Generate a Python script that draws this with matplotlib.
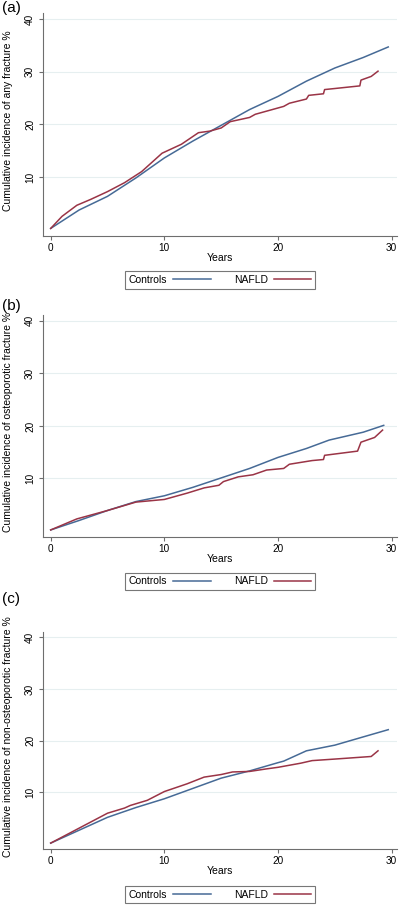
import matplotlib
matplotlib.use("Agg")
import matplotlib.pyplot as plt
from matplotlib.lines import Line2D

plt.rcParams['font.family'] = ['Liberation Sans', 'DejaVu Sans']

panel_labels = ["(a)", "(b)", "(c)"]
y_titles = ["Cumulative incidence of any fracture %",
            "Cumulative incidence of osteoporotic fracture %",
            "Cumulative incidence of non-osteoporotic fracture %"]
series_names = ["Controls", "NAFLD"]
x_ticks = [0, 10, 20, 30]
y_ticks = [10, 20, 30, 40]

# Panel (a): any fracture
a_ctrl_x = [0, 2.5, 5, 7.5, 10, 12.5, 15, 17.5, 20, 22.5, 25, 27.5, 29.7]
a_ctrl_y = [0.2, 3.7, 6.3, 9.8, 13.6, 16.8, 19.8, 22.8, 25.3, 28.2, 30.7, 32.7, 34.7]
a_nafld_x = [0, 1, 2.3, 3.5, 5, 6.5, 8, 9.8, 11.5, 13, 14, 15, 15.8, 17.5, 18, 19.5, 20.5, 21, 22.5, 22.7, 24, 24.1, 25, 27.2, 27.3, 28.2, 28.8]
a_nafld_y = [0.2, 2.5, 4.6, 5.7, 7.2, 8.9, 11.0, 14.5, 16.2, 18.4, 18.7, 19.3, 20.5, 21.3, 21.9, 22.8, 23.4, 24.0, 24.8, 25.5, 25.8, 26.6, 26.8, 27.3, 28.4, 29.1, 30.1]

# Panel (b): osteoporotic fracture
b_ctrl_x = [0, 2.5, 5, 7.5, 10, 12.5, 15, 17.5, 20, 22.5, 24.5, 27.5, 29.3]
b_ctrl_y = [0.2, 2.0, 3.9, 5.6, 6.7, 8.3, 10.1, 11.9, 14.0, 15.7, 17.3, 18.8, 20.1]
b_nafld_x = [0, 2.3, 5, 7.5, 10, 12, 13.5, 14.8, 15.2, 16.5, 17.8, 19, 20.5, 21, 23, 24, 24.1, 27, 27.3, 28.5, 29.2]
b_nafld_y = [0.2, 2.3, 3.9, 5.5, 6.0, 7.2, 8.2, 8.7, 9.4, 10.3, 10.7, 11.6, 11.9, 12.7, 13.4, 13.6, 14.4, 15.2, 16.9, 17.8, 19.2]

# Panel (c): non-osteoporotic fracture
c_ctrl_x = [0, 2.5, 5, 7.5, 10, 12.5, 15, 17.5, 20, 20.5, 22.5, 25, 27.5, 29.7]
c_ctrl_y = [0.1, 2.6, 5.1, 7.0, 8.7, 10.7, 12.7, 14.1, 15.7, 16.0, 18.0, 19.1, 20.7, 22.1]
c_nafld_x = [0, 2.5, 5, 6.5, 7, 8.5, 10, 12, 13.5, 15, 16, 17.5, 19, 20, 22, 23, 25, 28.2, 28.8]
c_nafld_y = [0.1, 3.0, 5.9, 6.9, 7.4, 8.4, 10.1, 11.6, 12.9, 13.4, 13.9, 14.0, 14.5, 14.8, 15.6, 16.1, 16.4, 16.9, 18.0]

data = [
    (a_ctrl_x, a_ctrl_y, a_nafld_x, a_nafld_y),
    (b_ctrl_x, b_ctrl_y, b_nafld_x, b_nafld_y),
    (c_ctrl_x, c_ctrl_y, c_nafld_x, c_nafld_y),
]

ctrl_color = "#466a96"
nafld_color = "#9a3446"
spine_color = "#6e6e6e"
grid_color = "#e6eff0"

fig = plt.figure(figsize=(4.0, 9.07), dpi=100)
W, H = 400.0, 907.0

# axes pixel boxes: (left, top, right, bottom)
boxes = [(43.3, 13.3, 397, 236.0), (43.3, 315.0, 397, 537.3), (43.3, 631.7, 397, 849.3)]
ylims = [(-1.24, 41.1), (-1.2, 41.1), (-1.1, 41.1)]
legend_boxes = [(125, 270, 315, 290), (125, 571.7, 315, 591), (125, 885, 315, 904)]
label_pos = [(2, 8), (2, 306), (2, 599)]

for i, ax_box in enumerate(boxes):
    l, t, r, b = ax_box
    ax = fig.add_axes([l / W, 1 - b / H, (r - l) / W, (b - t) / H])
    cx, cy, nx, ny = data[i]
    ax.plot(cx, cy, color=ctrl_color, lw=1.1)
    ax.plot(nx, ny, color=nafld_color, lw=1.1)
    ax.set_xlim(-0.65, 30.47)
    ax.set_ylim(*ylims[i])
    ax.set_xticks(x_ticks)
    ax.set_yticks(y_ticks)
    ax.set_yticklabels([str(v) for v in y_ticks], rotation=90, va='center')
    ax.tick_params(axis='both', labelsize=7.2, length=3, width=0.8, color=spine_color, pad=2)
    ax.tick_params(axis='y', pad=3)
    for s in ['top', 'right']:
        ax.spines[s].set_visible(False)
    for s in ['left', 'bottom']:
        ax.spines[s].set_color(spine_color)
        ax.spines[s].set_linewidth(0.8)
    ax.grid(axis='y', color=grid_color, lw=0.8)
    ax.set_axisbelow(True)
    ax.set_xlabel("Years", fontsize=7.5, labelpad=0)
    ax.set_ylabel(y_titles[i], fontsize=7.5)
    ax.yaxis.set_label_coords((8.5 - l) / (r - l), 0.52)
    ax.yaxis.label.set_va('center')

    # legend
    ll, lt, lr, lb = legend_boxes[i]
    handles = [Line2D([], [], color=ctrl_color, lw=1.1), Line2D([], [], color=nafld_color, lw=1.1)]
    leg = fig.legend(handles, series_names, loc='center',
                     bbox_to_anchor=(((ll + lr) / 2) / W, 1 - ((lt + lb) / 2) / H),
                     ncol=2, fontsize=7.5, frameon=True, fancybox=False,
                     handlelength=3.6, handletextpad=0.6, columnspacing=2.2,
                     borderpad=0.35, markerfirst=False)
    leg.get_frame().set_edgecolor("#555555")
    leg.get_frame().set_linewidth(0.8)

    fig.text(label_pos[i][0] / W, 1 - label_pos[i][1] / H, panel_labels[i],
             fontsize=11, va='center', ha='left')

fig.savefig("out.png", dpi=100, facecolor='white')
